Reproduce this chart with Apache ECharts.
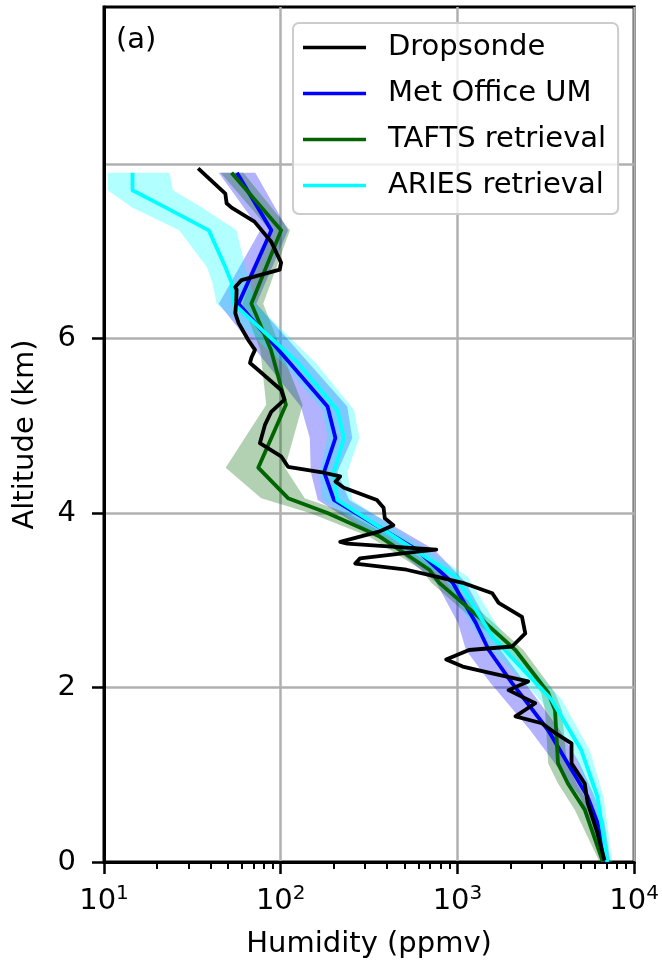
<!DOCTYPE html>
<html><head><meta charset="utf-8">
<script src="https://cdn.jsdelivr.net/npm/echarts@6/dist/echarts.min.js"></script>
<style>html,body{margin:0;padding:0;background:#fff}#c{width:662px;height:969px}</style>
</head><body><div id="c"></div>
<script>
const FONT = 'DejaVu Sans';
const FS = 29;
const seriesNames = ['Dropsonde', 'Met Office UM', 'TAFTS retrieval', 'ARIES retrieval'];
const xTicks = [10, 100, 1000, 10000];
const xMinorTicks = [20,30,40,50,60,70,80,90,200,300,400,500,600,700,800,900,2000,3000,4000,5000,6000,7000,8000,9000];
const yTicks = [0, 2, 4, 6, 8];

// Dropsonde
const sondeAlt = [7.95,7.66,7.55,7.50,7.34,7.11,6.87,6.79,6.67,6.59,6.56,6.42,6.29,6.18,5.98,5.87,5.78,5.72,5.64,5.41,5.30,5.16,5.01,4.80,4.65,4.53,4.47,4.42,4.36,4.29,4.15,4.06,3.94,3.86,3.79,3.67,3.65,3.58,3.56,3.48,3.42,3.35,3.27,3.20,3.08,2.97,2.81,2.62,2.47,2.43,2.32,2.24,2.17,2.07,1.97,1.82,1.67,1.59,1.48,1.36,1.13,0.90,0.68,0.33,0.02];
const sondeHum = [34.1,48.6,49.4,52.7,71,88.3,100.5,98.7,60,55.3,56.3,56,55.3,57.7,65.6,71.5,68.2,67,74.6,100.5,105,88.3,81.4,76.2,100.5,110,168,217,204,228,350,382,388,434,364,217,238,759,610,281,264,515,759,1071,1574,1710,2318,2420,2038,1162,863,1071,1503,2513,1945,2755,2128,3000,3565,4420,4420,5250,5450,6200,6790];

// Met Office UM
const umAlt = [7.9,7.24,6.4,5.22,4.86,4.47,4.15,3.58,3.2,2.74,2.43,2.05,1.51,1.13,0.75,0.45,0];
const umHum = [56.5,88.5,57.7,184,204,176,200,586,940,1271,1503,2038,3260,4215,5450,6200,6930];
const umLo  = [44.6,76.6,44.6,130,146,148,162,453,759,1007,1117,1542,2582,3564,4920,5741,6531];
const umHi  = [71.8,110,72.8,238,254,209,244,740,1117,1483,1754,2421,3801,4920,5970,6790,7328];

// TAFTS retrieval
const taftsAlt = [7.9,7.24,6.4,5.87,5.24,4.52,4.17,4.0,3.73,3.35,3.2,2.77,2.43,1.94,1.74,1.13,0.9,0.6,0];
const taftsHum = [52.7,100.5,68.2,88,107,74.6,110,184,364,693,789,1387,2128,3260,3565,3707,4215,5250,6650];
const taftsLo  = [45.7,87,60.7,76.6,82.8,48.8,77.6,146,316,625,711,1240,1919,2972,3130,3260,3707,4610,6370];
const taftsHi  = [61.5,112.7,79.6,100.5,133,105.7,136.7,238,414,778,885,1542,2360,3565,3900,4160,4730,5820,7140];

// ARIES retrieval
const ariesAlt = [7.9,7.7,7.5,7.24,6.82,6.64,6.4,5.72,5.18,4.86,4.47,4.15,3.27,2.58,1.86,1.28,0.75,0];
const ariesHum = [14.5,14.5,22.4,39.2,48.6,52.7,54.1,125,209,228,200,209,982,1577,3412,5024,6194,7050];
const ariesLo  = [10.5,10.5,14.5,26.6,38.2,41,43.4,103,172.6,184,166,172.6,830,1321,2937,4488,5741,6610];
const ariesHi  = [23.5,24.5,36,56.2,63,67,71.8,158,260,278,238,254,1146,1824,3900,5600,6700,7515];

function pairs(xs, ys) { return xs.map((x, i) => [x, ys[i]]); }

function band(name, alt, lo, hi, color) {
  return {
    type: 'custom', name: name, silent: true, z: 1, clip: true,
    data: [[lo[0], alt[0]]],
    renderItem: function (params, api) {
      const pts = [];
      for (let i = 0; i < alt.length; i++) pts.push(api.coord([lo[i], alt[i]]));
      for (let i = alt.length - 1; i >= 0; i--) pts.push(api.coord([hi[i], alt[i]]));
      return { type: 'polygon', shape: { points: pts }, style: { fill: color, stroke: null } };
    }
  };
}
function line(name, hum, alt, color, z) {
  return {
    type: 'line', name: name, data: pairs(hum, alt), symbol: 'none', z: z,
    lineStyle: { color: color, width: 3.8, join: 'round' }, itemStyle: { color: color },
    emphasis: { disabled: true }
  };
}

const chart = echarts.init(document.getElementById('c'), null, { renderer: 'canvas' });
chart.setOption({
  animation: false,
  backgroundColor: '#fff',
  title: { text: '(a)', left: 116, top: 26, padding: 0,
    textStyle: { fontFamily: FONT, fontSize: FS, fontWeight: 'normal', color: '#000' } },
  grid: { left: 104, right: 22, top: 7, bottom: 107, show: true, borderColor: '#000', borderWidth: 3, backgroundColor: 'transparent' },
  legend: {
    data: seriesNames, orient: 'vertical', left: 293, top: 23,
    padding: [10, 12, 14, 10], itemWidth: 63, itemHeight: 3.5, itemGap: 17, icon: 'rect',
    backgroundColor: 'rgba(255,255,255,0.8)', borderColor: '#cccccc', borderWidth: 2, borderRadius: 6,
    textStyle: { fontFamily: FONT, fontSize: FS, color: '#000', lineHeight: 28, padding: [0, 0, 0, 17] }
  },
  xAxis: [{
    type: 'log', logBase: 10, min: 10, max: 10000,
    name: 'Humidity (ppmv)', nameLocation: 'middle', nameGap: 68,
    nameTextStyle: { fontFamily: FONT, fontSize: FS, color: '#000' },
    axisLine: { show: true, lineStyle: { color: '#000', width: 3 } },
    axisTick: { show: true, length: 12, lineStyle: { color: '#000', width: 2.5 } },
    splitLine: { show: true, lineStyle: { color: '#b0b0b0', width: 2.5 } },
    axisLabel: {
      margin: 22,
      formatter: function (v) { return '{b|10}{s|' + Math.round(Math.log10(v)) + '}'; },
      rich: {
        b: { fontFamily: FONT, fontSize: FS, color: '#000', lineHeight: 34 },
        s: { fontFamily: FONT, fontSize: 20, color: '#000', verticalAlign: 'top', lineHeight: 20 }
      }
    }
  }, {
    type: 'log', logBase: 10, min: 10, max: 10000, position: 'bottom',
    axisLine: { show: false }, splitLine: { show: false }, axisLabel: { show: false },
    axisTick: { show: true, length: 7, customValues: xMinorTicks, lineStyle: { color: '#000', width: 2 } }
  }],
  yAxis: {
    type: 'value', min: 0, max: 9.8, interval: 2,
    name: 'Altitude (km)', nameLocation: 'middle', nameGap: 64,
    nameTextStyle: { fontFamily: FONT, fontSize: FS, color: '#000' },
    axisLine: { show: true, lineStyle: { color: '#000', width: 3 } },
    axisTick: { show: true, length: 12, customValues: yTicks, lineStyle: { color: '#000', width: 2.5 } },
    splitLine: { show: true, lineStyle: { color: '#b0b0b0', width: 2.5 } },
    axisLabel: { margin: 28, showMaxLabel: false, customValues: yTicks, fontFamily: FONT, fontSize: FS, color: '#000' }
  },
  series: [
    band('UM band', umAlt, umLo, umHi, 'rgba(0,0,255,0.3)'),
    band('TAFTS band', taftsAlt, taftsLo, taftsHi, 'rgba(0,100,0,0.3)'),
    band('ARIES band', ariesAlt, ariesLo, ariesHi, 'rgba(0,255,255,0.3)'),
    line(seriesNames[1], umHum, umAlt, '#0000ff', 3),
    line(seriesNames[2], taftsHum, taftsAlt, '#006400', 3),
    line(seriesNames[3], ariesHum, ariesAlt, '#00ffff', 3),
    line(seriesNames[0], sondeHum, sondeAlt, '#000000', 4)
  ]
});
</script></body></html>
